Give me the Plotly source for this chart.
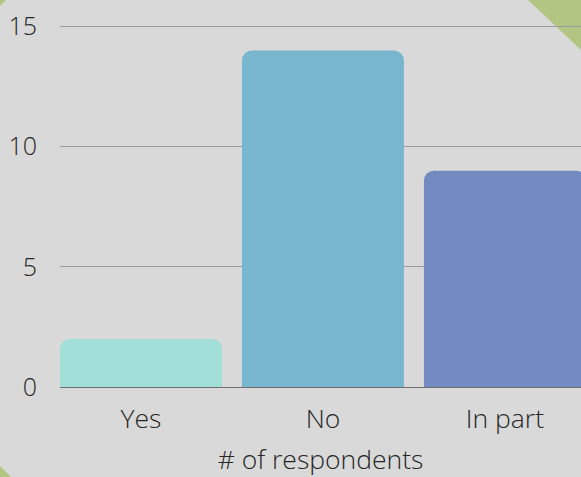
import plotly.graph_objects as go

categories = ["Yes", "No", "In part"]
values = [2, 14, 9]
colors = ["#a3dfd9", "#78b6d0", "#728abf"]
y_ticks = [0, 5, 10, 15]
x_title = "# of respondents"

fig = go.Figure()
fig.add_trace(go.Bar(
    x=categories, y=values, marker=dict(color=colors, line=dict(width=0)),
    width=0.89,
))

green = "#b3c583"
W, H = 581, 477
pl, pr, pt, pb = 60, 0, 0, 90
pw, ph = W - pl - pr, H - pt - pb

fig.update_layout(
    width=W, height=H,
    margin=dict(l=pl, r=pr, t=pt, b=pb),
    paper_bgcolor="#d9d9d9", plot_bgcolor="#d9d9d9",
    font=dict(family="Open Sans", size=24, color="#262626", weight=300),
    showlegend=False,
    barcornerradius=10,
    xaxis=dict(range=[-0.445, 2.418], showgrid=False, zeroline=False, showline=False,
               ticks="", tickfont=dict(size=26.5), ticklabelstandoff=13,
               title=dict(text=x_title, standoff=16, font=dict(size=26.5)), fixedrange=True),
    yaxis=dict(range=[0, 16.1], tickvals=y_ticks, showgrid=True, gridcolor="#9a9a9a",
               gridwidth=1, zeroline=True, zerolinecolor="#6e6e6e", zerolinewidth=1,
               tickfont=dict(size=25), fixedrange=True,
               showline=False, ticks="", ticklabelstandoff=22),
)

def px(x):
    return (x - pl) / pw
def py(y):
    return (H - pb - y) / ph
def tri(pts):
    d = "M " + " L ".join(f"{px(x)} {py(y)}" for x, y in pts) + " Z"
    return dict(type="path", xref="paper", yref="paper", path=d,
                fillcolor=green, line=dict(width=0), layer="below")
fig.update_layout(shapes=[
    tri([(528, 0), (581, 0), (581, 50)]),
    tri([(0, 0), (6, 0), (0, 6)]),
    tri([(0, 466), (11, 477), (0, 477)]),
])
fig.write_html("out.html", config={"displayModeBar": False},
               post_script="document.body.style.margin='0';document.body.style.padding='0';")
